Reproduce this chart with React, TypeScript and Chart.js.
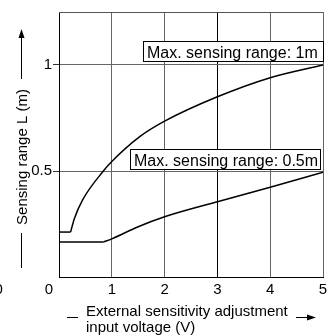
import React, { useEffect, useRef } from 'react';
import { Chart, registerables } from 'chart.js';

Chart.register(...registerables);

// ---- data ----
const xTicks = [0, 1, 2, 3, 4, 5];
const xTickLabels = ['0', '1', '2', '3', '4', '5'];
const yTicks = [0.5, 1];
const yTickLabels = ['0.5', '1'];

// Max. sensing range 1m: flat part and rising part
const flat1mX = [0, 0.22];
const flat1mY = [0.212, 0.212];
const rise1mX = [0.22, 0.29, 0.45, 0.84, 1, 1.53, 2, 3, 4, 5];
const rise1mY = [0.212, 0.275, 0.365, 0.5, 0.545, 0.662, 0.735, 0.85, 0.94, 1.0];

// Max. sensing range 0.5m
const flat05X = [0, 0.84];
const flat05Y = [0.165, 0.165];
const rise05X = [0.84, 1, 1.5, 2, 3, 4, 5];
const rise05Y = [0.165, 0.18, 0.237, 0.284, 0.355, 0.423, 0.494];

const label1m = 'Max. sensing range: 1m';
const label05 = 'Max. sensing range: 0.5m';
const yTitle = 'Sensing range L (m)';
const xTitleLines = ['External sensitivity adjustment', 'input voltage (V)'];

const FONT = '"Liberation Sans", Arial, Helvetica, sans-serif';

const pts = (xs: number[], ys: number[]) => xs.map((x, i) => ({ x, y: ys[i] }));

const decorPlugin = {
  id: 'decor',
  afterDraw(chart: any) {
    const { ctx, chartArea } = chart;
    const { left, right, top } = chartArea;
    ctx.save();
    // top frame line
    ctx.strokeStyle = '#555';
    ctx.lineWidth = 1;
    ctx.beginPath();
    ctx.moveTo(left, Math.floor(top) + 0.5);
    ctx.lineTo(right, Math.floor(top) + 0.5);
    ctx.stroke();

    // annotation boxes
    const box = (x: number, y: number, w: number, h: number, text: string, tx: number, ty: number) => {
      ctx.fillStyle = '#fff';
      ctx.fillRect(x, y, w, h);
      ctx.strokeStyle = '#000';
      ctx.lineWidth = 1;
      ctx.strokeRect(x, y, w, h);
      ctx.fillStyle = '#000';
      ctx.font = `16px ${FONT}`;
      ctx.textAlign = 'left';
      ctx.textBaseline = 'alphabetic';
      ctx.fillText(text, tx, ty);
    };
    box(143.5, 41.5, 180, 20, label1m, 147, 58);
    box(130.5, 149.5, 190, 20, label05, 134, 165.5);

    ctx.fillStyle = '#000';
    ctx.strokeStyle = '#000';
    ctx.lineWidth = 1;

    // y-axis title with line and arrow
    ctx.save();
    ctx.translate(27, 157);
    ctx.rotate(-Math.PI / 2);
    ctx.font = `15px ${FONT}`;
    ctx.textAlign = 'center';
    ctx.textBaseline = 'alphabetic';
    ctx.fillText(yTitle, 0, 0);
    ctx.restore();
    ctx.beginPath();
    ctx.moveTo(21.5, 233);
    ctx.lineTo(21.5, 268);
    ctx.moveTo(21.5, 79);
    ctx.lineTo(21.5, 36);
    ctx.stroke();
    ctx.beginPath();
    ctx.moveTo(21.5, 29);
    ctx.lineTo(18.5, 38);
    ctx.lineTo(24.5, 38);
    ctx.closePath();
    ctx.fill();

    // x-axis title with dash and arrow
    ctx.font = `15px ${FONT}`;
    ctx.textAlign = 'left';
    ctx.fillText(xTitleLines[0], 86, 316);
    ctx.fillText(xTitleLines[1], 86, 332);
    ctx.beginPath();
    ctx.moveTo(67, 317.5);
    ctx.lineTo(78, 317.5);
    ctx.moveTo(296, 317.5);
    ctx.lineTo(308, 317.5);
    ctx.stroke();
    ctx.beginPath();
    ctx.moveTo(316, 317.5);
    ctx.lineTo(307, 314.5);
    ctx.lineTo(307, 320.5);
    ctx.closePath();
    ctx.fill();

    // origin label and clipped neighbour label
    ctx.textAlign = 'center';
    ctx.fillText(xTickLabels[0], 48.8, 294);
    ctx.textAlign = 'left';
    ctx.fillText('0', -5.5, 294);
    ctx.restore();
  },
};

export default function App() {
  const ref = useRef<HTMLCanvasElement | null>(null);

  useEffect(() => {
    if (!ref.current) return;
    Chart.defaults.font.family = FONT;
    const lineStyle = {
      borderColor: '#000',
      borderWidth: 1.5,
      pointRadius: 0,
      fill: false,
    };
    const chart = new Chart(ref.current, {
      type: 'line',
      data: {
        datasets: [
          { ...lineStyle, data: pts(flat1mX, flat1mY), tension: 0 },
          { ...lineStyle, data: pts(rise1mX, rise1mY), cubicInterpolationMode: 'monotone' },
          { ...lineStyle, data: pts(flat05X, flat05Y), tension: 0 },
          { ...lineStyle, data: pts(rise05X, rise05Y), cubicInterpolationMode: 'monotone' },
        ] as any,
      },
      options: {
        animation: false,
        responsive: false,
        maintainAspectRatio: false,
        layout: { padding: { top: 12, right: 11, left: 0, bottom: 0 } },
        plugins: { legend: { display: false }, tooltip: { enabled: false } },
        scales: {
          x: {
            type: 'linear',
            min: 0,
            max: 5,
            afterBuildTicks: (s: any) => {
              s.ticks = xTicks.map((v) => ({ value: v }));
            },
            afterFit: (s: any) => {
              s.height = 59;
            },
            ticks: {
              callback: (_v: any, i: number) => (i === 0 ? '' : xTickLabels[i]),
              color: '#000',
              font: { size: 15 },
              padding: 4,
              maxRotation: 0,
              autoSkip: false,
            },
            grid: {
              drawTicks: false,
              color: (c: any) => (c.tick && c.tick.value === 3 ? '#000' : '#666'),
              lineWidth: 1,
            },
            border: { color: '#000', width: 1 },
          },
          y: {
            type: 'linear',
            min: 0,
            max: 1.25,
            afterBuildTicks: (s: any) => {
              s.ticks = yTicks.map((v) => ({ value: v }));
            },
            afterFit: (s: any) => {
              s.width = 59;
            },
            ticks: {
              callback: (_v: any, i: number) => yTickLabels[i],
              color: '#000',
              font: { size: 15 },
              padding: 1,
              autoSkip: false,
            },
            grid: {
              color: '#666',
              tickColor: '#333',
              tickLength: 6,
              lineWidth: 1,
            },
            border: { color: '#000', width: 1 },
          },
        },
      },
      plugins: [decorPlugin],
    });
    return () => chart.destroy();
  }, []);

  return (
    <div style={{ position: 'absolute', left: 0, top: 0, width: 334, height: 336, background: '#fff' }}>
      <canvas ref={ref} width={334} height={336} style={{ display: 'block' }} />
    </div>
  );
}
